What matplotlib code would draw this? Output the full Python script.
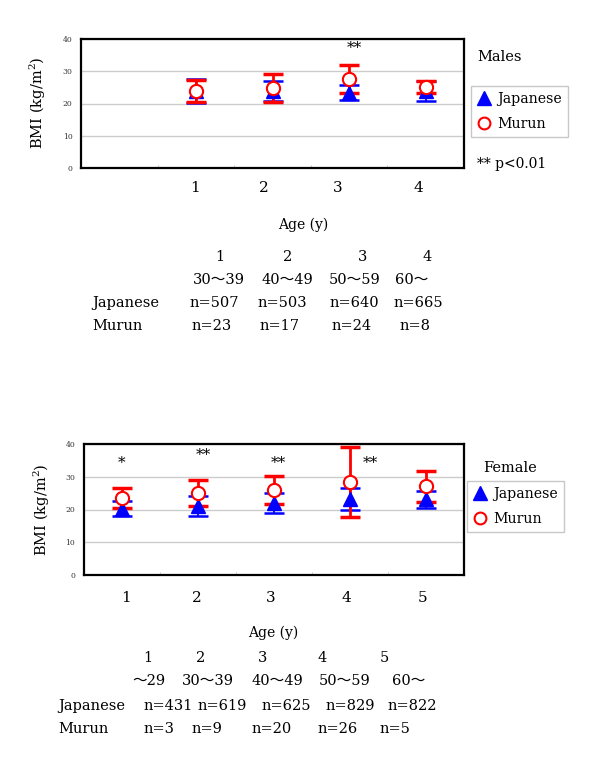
import matplotlib.pyplot as plt
from matplotlib.lines import Line2D

plt.rcParams['font.family'] = ['DejaVu Serif', 'Noto Sans CJK JP']
plt.rcParams['mathtext.fontset'] = 'dejavuserif'

# ---- data (BMI mean and SD) ----
male_groups = [2, 3, 4, 5]
male_jp_mean = [23.9, 23.9, 23.4, 23.9]
male_jp_sd = [3.8, 3.1, 2.2, 3.1]
male_mu_mean = [23.8, 24.7, 27.5, 25.1]
male_mu_sd = [3.4, 4.3, 4.3, 1.9]
male_ticks = ['1', '2', '3', '4']
male_stars = ['', '', '**', '']
male_ages = ['30～39', '40～49', '50～59', '60～']
male_jp_n = ['n=507', 'n=503', 'n=640', 'n=665']
male_mu_n = ['n=23', 'n=17', 'n=24', 'n=8']

female_groups = [1, 2, 3, 4, 5]
female_jp_mean = [20.2, 21.0, 22.0, 23.2, 23.1]
female_jp_sd = [2.3, 3.1, 3.0, 3.5, 2.5]
female_mu_mean = [23.5, 25.0, 25.9, 28.4, 27.1]
female_mu_sd = [3.0, 4.0, 4.3, 10.6, 4.7]
female_ticks = ['1', '2', '3', '4', '5']
female_stars = ['*', '**', '**', '**', '']
female_ages = ['～29', '30～39', '40～49', '50～59', '60～']
female_jp_n = ['n=431', 'n=619', 'n=625', 'n=829', 'n=822']
female_mu_n = ['n=3', 'n=9', 'n=20', 'n=26', 'n=5']

W, H = 600, 757
fig = plt.figure(figsize=(W / 100, H / 100), dpi=100)


def fx(x):
    return x / W


def fy(y):
    return 1 - y / H


def txt(x, y, s, ha='left', size=10.5, **kw):
    fig.text(fx(x), fy(y), s, ha=ha, va='center', fontsize=size, **kw)


def panel(rect, groups, jp_m, jp_s, mu_m, mu_s, stars, star_xy):
    ax = fig.add_axes(rect)
    ax.set_xlim(0.5, 5.5)
    ax.set_ylim(0, 40)
    ax.set_yticks([0, 10, 20, 30, 40])
    ax.tick_params(axis='y', length=0, labelsize=5.5, labelcolor='#333333', pad=6)
    ax.set_xticks([])
    ax.set_xticks([1.5, 2.5, 3.5, 4.5], minor=True)
    ax.tick_params(axis='x', which='minor', direction='in', length=2, color='#bbbbbb')
    ax.grid(axis='y', color='#cccccc', linewidth=1)
    ax.set_axisbelow(True)
    for sp in ax.spines.values():
        sp.set_linewidth(1.6)
    # Japanese bars under Murun bars, all markers on top
    ax.errorbar(groups, jp_m, yerr=jp_s, fmt='none', ecolor='blue', elinewidth=1.3,
                capsize=7.5, capthick=1.8, zorder=2)
    ax.errorbar(groups, mu_m, yerr=mu_s, fmt='none', ecolor='red', elinewidth=2,
                capsize=7.5, capthick=2.5, zorder=2.5)
    ax.plot(groups, jp_m, ls='none', marker='^', ms=9.5, color='blue', zorder=3)
    ax.plot(groups, mu_m, ls='none', marker='o', ms=9.5, mfc='white', mec='red',
            mew=1.5, zorder=4)
    for s, (x, y) in zip(stars, star_xy):
        if s:
            txt(x, y, s, ha='center', size=11)
    return ax


def legend(ax, x, y):
    handles = [Line2D([], [], ls='none', marker='^', ms=10, color='blue'),
               Line2D([], [], ls='none', marker='o', ms=8.5, mfc='white', mec='red', mew=1.5)]
    ax.legend(handles, ['Japanese', 'Murun'], loc='upper left',
              bbox_to_anchor=(fx(x), fy(y)), bbox_transform=fig.transFigure,
              fancybox=False, edgecolor='#c8c8c8', framealpha=1, fontsize=10.2,
              handlelength=0.9, handletextpad=0.5, labelspacing=0.75,
              borderpad=0.45, borderaxespad=0)


# ---- top panel: males ----
ax1 = panel([fx(81), fy(168), 383 / W, 129 / H], male_groups, male_jp_mean, male_jp_sd,
            male_mu_mean, male_mu_sd, male_stars,
            [(195, 48), (272, 48), (354, 48), (425, 48)])
legend(ax1, 471, 86)
txt(38, 103, 'BMI (kg/m$^{2}$)', ha='center', size=10.5, rotation=90)
txt(477, 57, 'Males', size=10.5)
txt(477, 164, '** p<0.01', size=10)
for s, x in zip(male_ticks, [195, 264, 338, 418]):
    txt(x, 188, s, ha='center', size=11)
txt(303, 225, 'Age (y)', ha='center', size=10)
for s, x in zip(male_ticks, [220, 288, 363, 427]):
    txt(x, 257, s, ha='center')
for s, x in zip(male_ages, [193, 262, 329, 395]):
    txt(x, 280, s)
txt(92, 303, 'Japanese')
for s, x in zip(male_jp_n, [190, 258, 329, 394]):
    txt(x, 303, s)
txt(92, 326, 'Murun')
for s, x in zip(male_mu_n, [191, 259, 332, 400]):
    txt(x, 326, s)

# ---- bottom panel: females ----
ax2 = panel([fx(83.5), fy(575), 380 / W, 131 / H], female_groups, female_jp_mean, female_jp_sd,
            female_mu_mean, female_mu_sd, female_stars,
            [(122, 463), (203, 455), (278, 463), (370, 463), (425, 463)])
legend(ax2, 467, 481)
txt(42, 510, 'BMI (kg/m$^{2}$)', ha='center', size=10.5, rotation=90)
txt(483, 468, 'Female', size=10.5)
for s, x in zip(female_ticks, [126, 197, 271, 346, 423]):
    txt(x, 598, s, ha='center', size=11)
txt(273, 633, 'Age (y)', ha='center', size=10)
for s, x in zip(female_ticks, [148, 201, 263, 322, 384]):
    txt(x, 658, s, ha='center')
for s, x in zip(female_ages, [132, 182, 251, 319, 392]):
    txt(x, 681, s)
txt(58, 706, 'Japanese')
for s, x in zip(female_jp_n, [143, 198, 262, 325, 388]):
    txt(x, 706, s)
txt(58, 729, 'Murun')
for s, x in zip(female_mu_n, [143, 191, 252, 318, 380]):
    txt(x, 729, s)

fig.savefig('out.png', dpi=100)
